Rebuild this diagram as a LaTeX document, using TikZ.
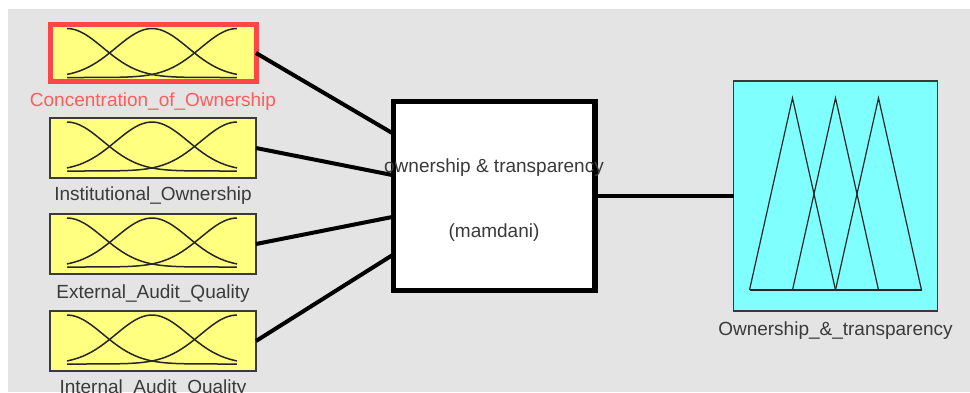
\documentclass[tikz,border=0pt]{standalone}
\usepackage{fontspec}
\setmainfont{Liberation Sans}
\usetikzlibrary{positioning,calc}

\definecolor{bggray}{HTML}{E4E4E4}
\definecolor{mfyellow}{HTML}{FFFF80}
\definecolor{mfcyan}{HTML}{80FFFF}
\definecolor{selred}{HTML}{FF4646}
\definecolor{labred}{HTML}{FF5C5C}
\definecolor{labgray}{HTML}{3A3A3A}

\tikzset{
  inbox/.style={draw=labgray,line width=1.5pt,fill=mfyellow,outer sep=0pt,
    minimum width=206pt,minimum height=60pt,inner sep=0pt},
  selected/.style={draw=selred,line width=5pt,minimum height=57pt},
  outbox/.style={draw=labgray,line width=1.5pt,fill=mfcyan,outer sep=0pt,
    minimum width=204pt,minimum height=230pt,inner sep=0pt},
  fisbox/.style={draw=black,line width=5.5pt,fill=white,outer sep=0pt,
    minimum width=201.5pt,minimum height=189pt,inner sep=0pt},
  varname/.style={text=labgray,inner sep=0pt,font=\fontsize{19}{22}\selectfont},
  wire/.style={draw=black,line width=4pt},
  mfline/.style={draw=black!85,line width=1.5pt}
}

% three gaussian membership functions inside an input box
\newcommand{\gausscurves}[1]{%
  \begin{scope}[shift={(#1.north west)}]
    \foreach \c in {0,0.5,1}
      \draw[mfline] plot[domain=0:1,samples=41]
        ({17+170*\x},{53-49*exp(-(\x-\c)^2/0.0901)});
  \end{scope}}

\begin{document}
\begin{tikzpicture}[x=1pt,y=-1pt]

      \useasboundingbox (0,0) rectangle (970,392);
      \fill[bggray] (8,9) rectangle (970,392);

      \node[inbox,selected] (com) at (153,53)  {};
      \node[inbox]          (ins) at (153,148) {};
      \node[inbox]          (ext) at (153,244) {};
      \node[inbox]          (int) at (153,341) {};
      \node[fisbox]         (fis) at (494,196) {};
      \node[outbox]         (out) at (835.5,196) {};

      \gausscurves{com}
      \gausscurves{ins}
      \gausscurves{ext}
      \gausscurves{int}

      \begin{scope}[shift={(out.north west)}]
        \foreach \k in {0,1,2}
          \draw[mfline,line width=1.2pt] ({16+43*\k},209) -- ({59+43*\k},17) -- ({102+43*\k},209);
        \draw[mfline,line width=1.2pt] (16,209) -- (188,209);
      \end{scope}

      \begin{scope}[every node/.style={varname}]
        \node[below=11pt of com,text=labred] (comname) {Concentration\_of\_Ownership};
        \node[below=9pt of ins]  (insname) {Institutional\_Ownership};
        \node[below=11pt of ext] (extname) {External\_Audit\_Quality};
        \node[below=9pt of int]  (intname) {Internal\_Audit\_Quality};
        \node[below=11pt of out] (outname) {Ownership\_\&\_transparency};
        \node[align=center] (fisname) at ($(fis)+(0,4)$)
          {ownership \& transparency\\[43pt](mamdani)};
      \end{scope}

      \path[wire] (com.east) edge ($(fis.north west)!0.17!(fis.south west)$);
      \path[wire] (ins.east) edge ($(fis.north west)!0.39!(fis.south west)$);
      \path[wire] (ext.east) edge ($(fis.north west)!0.61!(fis.south west)$);
      \path[wire] (int.east) edge ($(fis.north west)!0.81!(fis.south west)$);
      \path[wire] (fis.east) edge (out.west);

    \end{tikzpicture}
\end{document}
